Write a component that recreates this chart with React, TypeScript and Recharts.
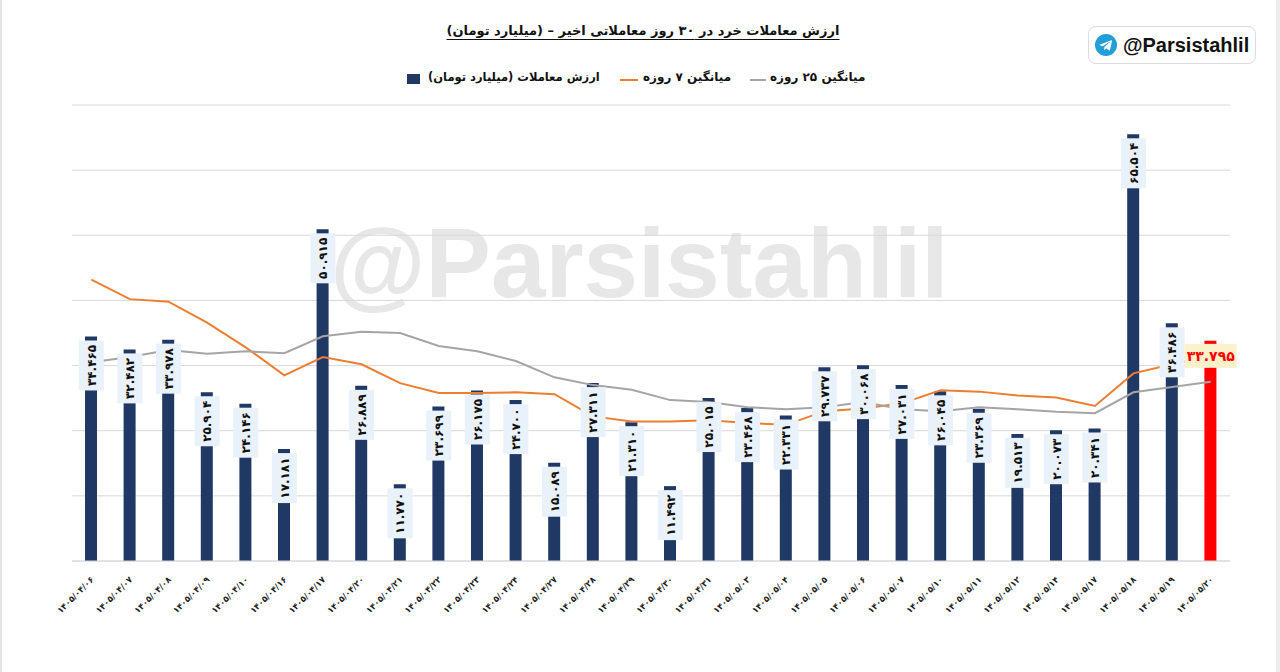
import React from "react";
import {
  ComposedChart,
  Bar,
  Line,
  XAxis,
  YAxis,
  CartesianGrid,
  Cell,
  LabelList,
} from "recharts";

const dates = [
  "۱۴۰۵/۰۴/۰۶", "۱۴۰۵/۰۴/۰۷", "۱۴۰۵/۰۴/۰۸", "۱۴۰۵/۰۴/۰۹", "۱۴۰۵/۰۴/۱۰",
  "۱۴۰۵/۰۴/۱۶", "۱۴۰۵/۰۴/۱۷", "۱۴۰۵/۰۴/۲۰", "۱۴۰۵/۰۴/۲۱", "۱۴۰۵/۰۴/۲۲",
  "۱۴۰۵/۰۴/۲۳", "۱۴۰۵/۰۴/۲۴", "۱۴۰۵/۰۴/۲۷", "۱۴۰۵/۰۴/۲۸", "۱۴۰۵/۰۴/۲۹",
  "۱۴۰۵/۰۴/۳۰", "۱۴۰۵/۰۴/۳۱", "۱۴۰۵/۰۵/۰۳", "۱۴۰۵/۰۵/۰۴", "۱۴۰۵/۰۵/۰۵",
  "۱۴۰۵/۰۵/۰۶", "۱۴۰۵/۰۵/۰۷", "۱۴۰۵/۰۵/۱۰", "۱۴۰۵/۰۵/۱۱", "۱۴۰۵/۰۵/۱۲",
  "۱۴۰۵/۰۵/۱۴", "۱۴۰۵/۰۵/۱۷", "۱۴۰۵/۰۵/۱۸", "۱۴۰۵/۰۵/۱۹", "۱۴۰۵/۰۵/۲۰",
];

// ارزش معاملات (میلیارد تومان)
const tradeValues = [
  34.465, 32.482, 33.978, 25.904, 24.146, 17.181, 50.915, 26.889, 11.77, 23.699,
  26.175, 24.7, 15.089, 27.311, 21.31, 11.492, 25.015, 23.468, 22.331, 29.737,
  30.068, 27.031, 26.045, 23.369, 19.513, 20.073, 20.341, 65.504, 36.486, 33.795,
];

// میانگین ۷ روزه
const avg7Values = [
  43.2, 40.2, 39.8, 36.6, 32.8, 28.5, 31.3, 30.2, 27.3, 25.8,
  25.8, 25.9, 25.6, 22.2, 21.4, 21.4, 21.6, 21.2, 20.9, 23.0,
  23.4, 24.2, 26.2, 26.0, 25.4, 25.1, 23.8, 28.8, 30.2, 31.3,
];

// میانگین ۲۵ روزه
const avg25Values = [
  30.5, 31.3, 32.4, 31.8, 32.2, 31.9, 34.5, 35.2, 35.0, 33.0,
  32.2, 30.7, 28.2, 27.0, 26.3, 24.7, 24.4, 23.6, 23.3, 23.6,
  24.4, 23.3, 23.0, 23.6, 23.3, 22.9, 22.7, 25.9, 26.7, 27.5,
];

const yTicks = [0, 10, 20, 30, 40, 50, 60, 70];

const NAVY = "#203864";
const ORANGE = "#ed7d31";
const GRAY = "#a5a5a5";
const FONT = "'DejaVu Sans', sans-serif";

const toFa = (s: string) => s.replace(/\d/g, (d) => "۰۱۲۳۴۵۶۷۸۹"[Number(d)]);

const data = dates.map((date, i) => ({
  date,
  value: tradeValues[i],
  avg7: avg7Values[i],
  avg25: avg25Values[i],
}));

function DateTick({ x, y, payload }: any) {
  return (
    <g transform={`translate(${x + 1},${y + 9})`}>
      <text
        textAnchor="end"
        transform="rotate(-45)"
        dy="0.35em"
        fontSize={8.5}
        fontWeight="bold"
        fontFamily={FONT}
        fill="#222"
      >
        {payload.value}
      </text>
    </g>
  );
}

function ValueLabel(props: any) {
  const { x, y, value, index } = props;
  const text = toFa(Number(value).toFixed(3));
  if (index === dates.length - 1) {
    return (
      <g>
        <rect x={x - 26} y={y + 3} width={52} height={24} fill="#fdf1cb" />
        <text
          x={x}
          y={y + 15}
          dy="0.35em"
          textAnchor="middle"
          fontSize={14}
          fontWeight="bold"
          fontFamily={FONT}
          fill="#ff0000"
        >
          {text}
        </text>
      </g>
    );
  }
  return (
    <g>
      <rect x={x - 12.5} y={y + 4} width={25} height={50} fill="#e9f1fa" />
      <text
        transform={`translate(${x},${y + 29}) rotate(-90)`}
        dy="0.35em"
        textAnchor="middle"
        fontSize={12}
        fontWeight="bold"
        fontFamily={FONT}
        fill="#111"
      >
        {text}
      </text>
    </g>
  );
}

function TelegramIcon() {
  return (
    <svg width={22} height={22} viewBox="0 0 24 24">
      <circle cx={12} cy={12} r={12} fill="#229ed9" />
      <path d="M5.2 11.7 L17.6 6.9 C18.2 6.7 18.7 7 18.5 7.8 L16.4 17.4 C16.3 18.1 15.8 18.2 15.3 17.9 L12.2 15.6 L10.7 17.1 C10.5 17.3 10.3 17.4 10 17.4 L10.2 14.2 L16 8.9 C16.3 8.7 15.9 8.5 15.6 8.7 L8.4 13.3 L5.3 12.3 C4.6 12.1 4.6 11.9 5.2 11.7 Z" fill="#fff" />
    </svg>
  );
}

const legendText: React.CSSProperties = {
  position: "absolute",
  top: 70,
  fontFamily: FONT,
  fontWeight: "bold",
  fontSize: 12,
  color: "#111",
  direction: "rtl",
  whiteSpace: "nowrap",
};

export default function App() {
  return (
    <div
      style={{
        position: "absolute",
        left: 0,
        top: 0,
        width: 1280,
        height: 672,
        background: "#fff",
        overflow: "hidden",
      }}
    >
      <div style={{ position: "absolute", left: 0, top: 0, width: 2, height: 672, background: "#e6e6e6" }} />
      <div style={{ position: "absolute", left: 1276, top: 0, width: 4, height: 672, background: "#ececec" }} />

      <div
        style={{
          position: "absolute",
          left: 330,
          top: 207,
          fontFamily: "'Liberation Sans', Arial, sans-serif",
          fontWeight: "bold",
          fontSize: 98,
          color: "#e7e7e7",
          whiteSpace: "nowrap",
        }}
      >
        @Parsistahlil
      </div>

      <div
        style={{
          position: "absolute",
          left: 0,
          top: 23,
          width: 1286,
          textAlign: "center",
          fontFamily: FONT,
          fontWeight: "bold",
          fontSize: 13,
          color: "#111",
          direction: "rtl",
        }}
      >
        <span style={{ textDecoration: "underline", textUnderlineOffset: 4 }}>
          ارزش معاملات خرد در ۳۰ روز معاملاتی اخیر – (میلیارد تومان)
        </span>
      </div>

      <div style={{ position: "absolute", left: 407, top: 74, width: 13, height: 10, background: NAVY }} />
      <div style={{ ...legendText, left: 428, fontSize: 11.5 }}>ارزش معاملات (میلیارد تومان)</div>
      <div style={{ position: "absolute", left: 620, top: 79, width: 18, height: 2, background: ORANGE }} />
      <div style={{ ...legendText, left: 643 }}>میانگین ۷ روزه</div>
      <div style={{ position: "absolute", left: 750, top: 79, width: 16, height: 2, background: GRAY }} />
      <div style={{ ...legendText, left: 770 }}>میانگین ۲۵ روزه</div>

      <div
        style={{
          position: "absolute",
          left: 1088,
          top: 26,
          width: 168,
          height: 38,
          border: "1px solid #dcdcdc",
          borderRadius: 8,
          boxSizing: "border-box",
          display: "flex",
          alignItems: "center",
          paddingLeft: 6,
          gap: 6,
          background: "#fff",
        }}
      >
        <TelegramIcon />
        <span
          style={{
            fontFamily: "'Liberation Sans', Arial, sans-serif",
            fontWeight: "bold",
            fontSize: 20,
            color: "#111",
          }}
        >
          @Parsistahlil
        </span>
      </div>

      <div style={{ position: "absolute", left: 0, top: 0 }}>
        <ComposedChart
          width={1280}
          height={672}
          data={data}
          margin={{ top: 105, right: 50, left: 72, bottom: 51 }}
        >
          <CartesianGrid vertical={false} stroke="#d9d9d9" />
          <XAxis
            dataKey="date"
            interval={0}
            height={60}
            tickLine={false}
            axisLine={{ stroke: "#d9d9d9" }}
            tick={<DateTick />}
          />
          <YAxis hide domain={[0, 70]} ticks={yTicks} />
          <Bar dataKey="value" barSize={12} isAnimationActive={false}>
            {data.map((_, i) => (
              <Cell key={i} fill={i === data.length - 1 ? "#ff0000" : NAVY} />
            ))}
          </Bar>
          <Line
            type="linear"
            dataKey="avg7"
            stroke={ORANGE}
            strokeWidth={2}
            dot={false}
            activeDot={false}
            isAnimationActive={false}
          />
          <Line
            type="linear"
            dataKey="avg25"
            stroke={GRAY}
            strokeWidth={2}
            dot={false}
            activeDot={false}
            isAnimationActive={false}
          />
          <Line
            dataKey="value"
            stroke="none"
            dot={false}
            activeDot={false}
            isAnimationActive={false}
          >
            <LabelList dataKey="value" content={<ValueLabel />} />
          </Line>
        </ComposedChart>
      </div>
    </div>
  );
}
